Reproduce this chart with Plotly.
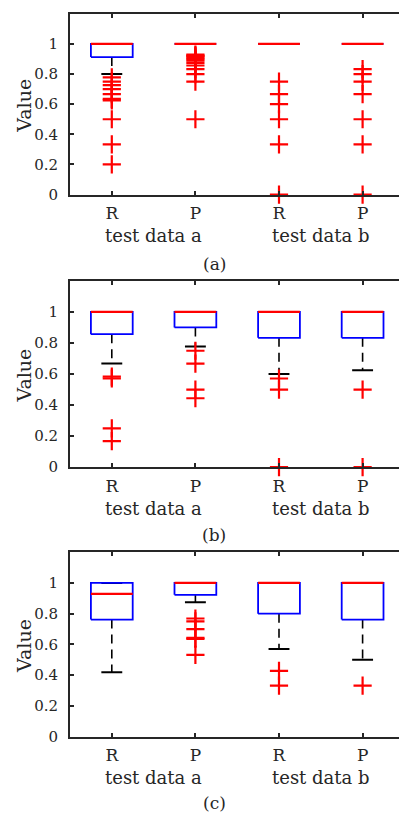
import plotly.graph_objects as go

# ---------------- data ----------------
categories = ["R", "P", "R", "P"]
groups = ["test data a", "test data b"]
group_centers = [1.5, 3.5]
panel_labels = ["(a)", "(b)", "(c)"]
y_ticks = [0, 0.2, 0.4, 0.6, 0.8, 1.0]
y_tick_text = ["0", "0.2", "0.4", "0.6", "0.8", "1"]

# panel (a)
a_q1 = [0.913, 1.0, 1.0, 1.0]
a_med = [1.0, 1.0, 1.0, 1.0]
a_q3 = [1.0, 1.0, 1.0, 1.0]
a_wlo = [0.8, 1.0, 1.0, 1.0]
a_whi = [1.0, 1.0, 1.0, 1.0]
a_out_R_a = [0.778, 0.75, 0.727, 0.7, 0.667, 0.636, 0.625, 0.5, 0.333, 0.2]
a_out_P_a = [0.929, 0.923, 0.917, 0.909, 0.9, 0.889, 0.875, 0.857, 0.833, 0.8, 0.75, 0.5]
a_out_R_b = [0.75, 0.667, 0.6, 0.5, 0.333, 0.0]
a_out_P_b = [0.833, 0.8, 0.75, 0.667, 0.5, 0.333, 0.0]

# panel (b)
b_q1 = [0.857, 0.9, 0.833, 0.833]
b_med = [1.0, 1.0, 1.0, 1.0]
b_q3 = [1.0, 1.0, 1.0, 1.0]
b_wlo = [0.667, 0.778, 0.6, 0.625]
b_whi = [1.0, 1.0, 1.0, 1.0]
b_out_R_a = [0.583, 0.571, 0.25, 0.167]
b_out_P_a = [0.75, 0.667, 0.5, 0.444]
b_out_R_b = [0.571, 0.5, 0.0]
b_out_P_b = [0.5, 0.0]

# panel (c)
c_q1 = [0.762, 0.923, 0.8, 0.762]
c_med = [0.929, 1.0, 1.0, 1.0]
c_q3 = [1.0, 1.0, 1.0, 1.0]
c_wlo = [0.42, 0.875, 0.571, 0.5]
c_whi = [1.0, 1.0, 1.0, 1.0]
c_out_R_a = []
c_out_P_a = [0.769, 0.75, 0.7, 0.643, 0.636, 0.533]
c_out_R_b = [0.429, 0.333]
c_out_P_b = [0.333]

panels = [
    (a_q1, a_med, a_q3, a_wlo, a_whi, [a_out_R_a, a_out_P_a, a_out_R_b, a_out_P_b]),
    (b_q1, b_med, b_q3, b_wlo, b_whi, [b_out_R_a, b_out_P_a, b_out_R_b, b_out_P_b]),
    (c_q1, c_med, c_q3, c_wlo, c_whi, [c_out_R_a, c_out_P_a, c_out_R_b, c_out_P_b]),
]

# ---------------- style ----------------
FONT = "DejaVu Serif"
TXT = "#262626"
AX = "#262626"
BOX_HW = 0.25
CAP_HW = 0.125
W, H = 399, 819
y_domains = [[0.7598, 0.9829], [0.4233, 0.6532], [0.0904, 0.3183]]
panel_label_shift = [-69, -68, -66]

fig = go.Figure()

for i, (q1, med, q3, wlo, whi, outs) in enumerate(panels):
    n = "" if i == 0 else str(i + 1)
    xa, ya = "x" + n, "y" + n
    wx, wy, cx, cy, bx, by, mx, my, ox, oy = [], [], [], [], [], [], [], [], [], []
    for k in range(len(categories)):
        p = k + 1
        wx += [p, p, None, p, p, None]
        wy += [q1[k], wlo[k], None, q3[k], whi[k], None]
        cx += [p - CAP_HW, p + CAP_HW, None, p - CAP_HW, p + CAP_HW, None]
        cy += [wlo[k], wlo[k], None, whi[k], whi[k], None]
        bx += [p - BOX_HW, p + BOX_HW, p + BOX_HW, p - BOX_HW, p - BOX_HW, None]
        by += [q1[k], q1[k], q3[k], q3[k], q1[k], None]
        mx += [p - BOX_HW, p + BOX_HW, None]
        my += [med[k], med[k], None]
        ox += [p] * len(outs[k])
        oy += list(outs[k])
    fig.add_trace(go.Scatter(x=wx, y=wy, mode="lines", xaxis=xa, yaxis=ya,
                             line=dict(color="black", width=1.6, dash="9px,6px"),
                             showlegend=False, hoverinfo="skip"))
    fig.add_trace(go.Scatter(x=cx, y=cy, mode="lines", xaxis=xa, yaxis=ya,
                             line=dict(color="black", width=2),
                             showlegend=False, hoverinfo="skip"))
    fig.add_trace(go.Scatter(x=bx, y=by, mode="lines", xaxis=xa, yaxis=ya,
                             line=dict(color="#0000ff", width=1.8),
                             showlegend=False, hoverinfo="skip"))
    fig.add_trace(go.Scatter(x=mx, y=my, mode="lines", xaxis=xa, yaxis=ya,
                             line=dict(color="#ff0000", width=2.2),
                             showlegend=False, hoverinfo="skip"))
    fig.add_trace(go.Scatter(x=ox, y=oy, mode="markers", xaxis=xa, yaxis=ya,
                             cliponaxis=False,
                             marker=dict(symbol="cross-thin", size=13,
                                         line=dict(color="#ff0000", width=2.2)),
                             showlegend=False, hoverinfo="skip"))

    fig.layout["xaxis" + n] = dict(
        domain=[0, 1], anchor=ya, range=[0.5, 0.5 + 329 / 83.6],
        tickvals=[1, 2, 3, 4], ticktext=categories,
        ticks="inside", ticklen=4, tickwidth=1.5, tickcolor=AX,
        showline=True, linecolor=AX, linewidth=2, mirror="ticks",
        showgrid=False, zeroline=False,
        tickfont=dict(family=FONT, size=17, color=TXT),
        ticklabelstandoff=2,
    )
    fig.layout["yaxis" + n] = dict(
        domain=y_domains[i], anchor=xa, range=[0, 1.2],
        tickvals=y_ticks, ticktext=y_tick_text,
        ticks="inside", ticklen=4, tickwidth=1.5, tickcolor=AX,
        showline=True, linecolor=AX, linewidth=2, mirror=False,
        showgrid=False, zeroline=False,
        tickfont=dict(family=FONT, size=15, color=TXT),
        ticklabelstandoff=7,
    )
    fig.add_annotation(text="Value", xref="paper", yref=ya + " domain",
                       x=(24.5 - 70) / 329, y=0.5, yshift=-2, textangle=-90,
                       xanchor="center", yanchor="middle", showarrow=False,
                       font=dict(family=FONT, size=19, color=TXT))
    for g, gc in zip(groups, group_centers):
        fig.add_annotation(text=g, xref=xa, yref=ya + " domain", x=gc, y=0,
                           yshift=-41, xanchor="center", yanchor="middle",
                           showarrow=False, font=dict(family=FONT, size=18, color=TXT))
    fig.add_annotation(text=panel_labels[i], xref="paper", yref=ya + " domain",
                       x=(214 - 70) / 329, y=0, yshift=panel_label_shift[i],
                       xanchor="center", yanchor="middle", showarrow=False,
                       font=dict(family=FONT, size=17, color=TXT))

fig.update_layout(width=W, height=H, margin=dict(l=70, r=0, t=0, b=0),
                  plot_bgcolor="white", paper_bgcolor="white")
fig.write_html("out.html", config={"displayModeBar": False},
               post_script="document.body.style.margin='0';document.body.style.overflow='hidden';")
